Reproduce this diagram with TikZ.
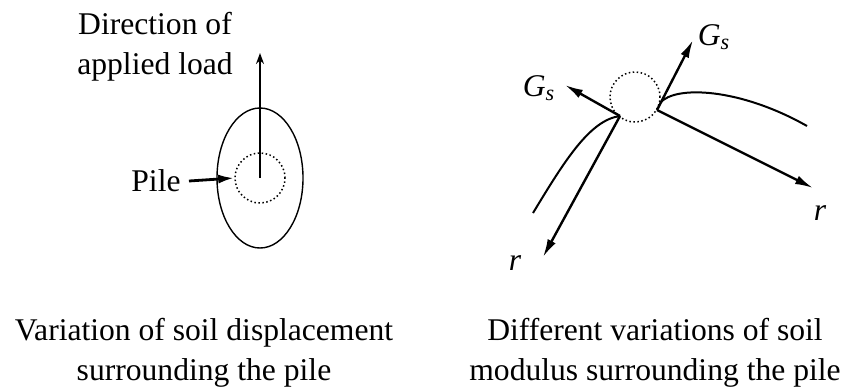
\documentclass[tikz,border=0pt]{standalone}
\usepackage{fontspec}
\setmainfont{Liberation Serif}
\usetikzlibrary{arrows.meta,positioning,shapes.geometric}

\begin{document}
\begin{tikzpicture}[
  x=0.5pt, y=-0.5pt,
  font=\fontsize{15.8}{20}\selectfont,
  pilebox/.style={circle, draw, line width=0.75pt, dash pattern=on 0.75pt off 1.25pt, minimum size=25pt, inner sep=0pt},
  zone/.style={ellipse, draw, line width=0.7pt, minimum width=43pt, minimum height=70pt, inner sep=0pt},
  arr/.style={-{Stealth[length=5.5pt, width=4pt]}, line width=0.8pt},
  pilearr/.style={-{Latex[length=8pt, width=4.5pt]}, line width=1.4pt},
  modarr/.style={-{Latex[length=9pt, width=4.5pt]}, line width=1.2pt},
  curve/.style={line width=1pt},
  lbl/.style={inner sep=0pt},
  caption/.style={align=center, inner sep=0pt, anchor=north}
]

\useasboundingbox (0,0) rectangle (849,387);

% soil displacement around the pile
\node[zone] (zone) at (260,178) {};
\node[pilebox] (pile) at (260,178) {};
\coordinate (loadtip) at (260,53);
\node[caption, anchor=center] (loadlbl) at (155,47) {Direction of\\applied load};
\node[lbl] (pilelbl) at (156,181) {Pile};

\draw[arr] (pile.center) -- (loadtip);
\draw[pilearr] (pilelbl.east) ++(8,0) -- (pile.west);

% soil modulus around the pile
\node[pilebox] (pile2) at (635,97) {};
\coordinate (ptA) at (620,116);
\coordinate (ptB) at (657,110);
\coordinate (gsleft) at (565,85);
\coordinate (gsup) at (693,40);
\coordinate (rright) at (813,188);
\coordinate (rdown) at (543,257);
\node[lbl] (gslbl1) at (539,88) {\textit{G}\textsubscript{\textit{s}}};
\node[lbl] (gslbl2) at (714,37) {\textit{G}\textsubscript{\textit{s}}};
\node[lbl] (rlbl1) at (820,213) {\textit{r}};
\node[lbl] (rlbl2) at (515,263) {\textit{r}};

\draw[modarr] (ptA) -- (gsleft);
\draw[modarr] (ptA) -- (rdown);
\draw[modarr] (ptB) -- (gsup);
\draw[modarr] (ptB) -- (rright);
\draw[curve] (533,213) .. controls (565,160) and (590,120) .. (ptA);
\draw[curve] (660,103) .. controls (675,85) and (740,88) .. (807,126);

% captions
\node[caption] (cap1) at (204,318) {Variation of soil displacement\\surrounding the pile};
\node[caption] (cap2) at (655,318) {Different variations of soil\\modulus surrounding the pile};

\end{tikzpicture}
\end{document}
